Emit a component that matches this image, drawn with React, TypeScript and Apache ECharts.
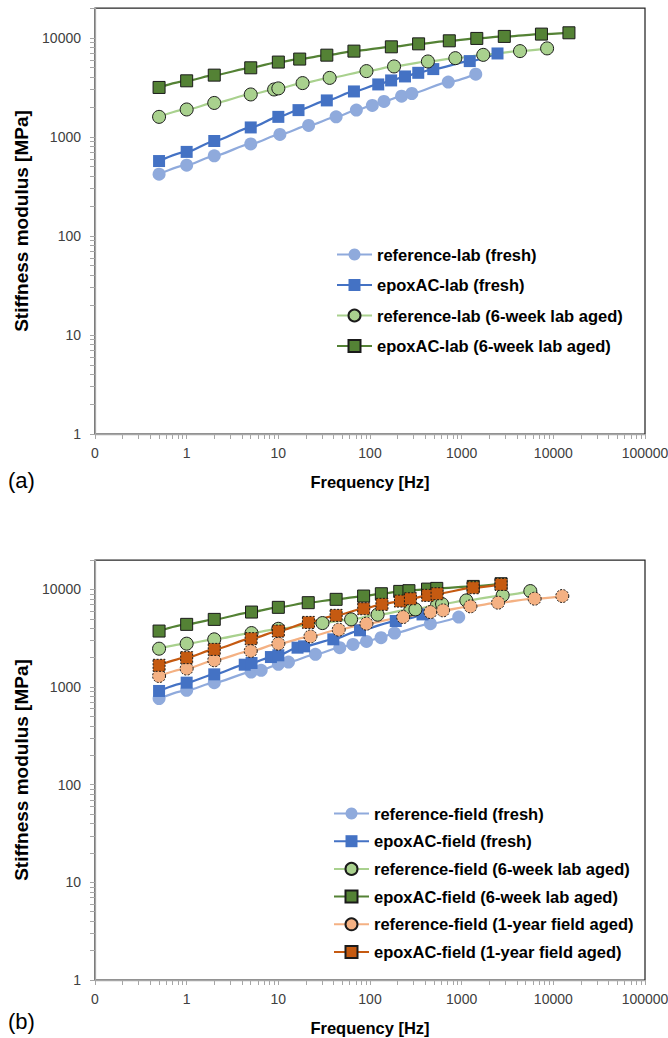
import React, { useEffect, useRef } from "react";
import * as echarts from "echarts";

// ---------- (a) laboratory-produced mixtures ----------
const labRefFreshF = [0.5, 1, 2, 5, 10.4, 21.4, 42.7, 71, 106, 142, 221, 286, 714, 1425];
const labRefFreshE = [420, 518, 643, 849, 1057, 1303, 1592, 1862, 2075, 2277, 2575, 2740, 3574, 4296];

const labEpoxFreshF = [0.5, 1, 2, 5, 10, 16.6, 33.8, 66.8, 123, 170, 241, 336, 490, 1225, 2460];
const labEpoxFreshE = [570, 705, 908, 1245, 1592, 1862, 2333, 2875, 3383, 3713, 4074, 4433, 4833, 5820, 6950];

const labRef6wF = [0.5, 1, 2, 5, 9, 10, 18.4, 36.3, 91.5, 183, 428, 853, 1720, 4330, 8550];
const labRef6wE = [1592, 1890, 2200, 2680, 3010, 3085, 3490, 3940, 4610, 5140, 5770, 6230, 6730, 7340, 7820];

const labEpox6wF = [0.5, 1, 2, 5, 10, 17.1, 33.8, 66.8, 171, 339, 733, 1462, 2917, 7417, 14800];
const labEpox6wE = [3155, 3680, 4200, 4980, 5690, 6100, 6680, 7340, 8110, 8690, 9330, 9860, 10330, 10900, 11240];

// ---------- (b) field-produced mixtures ----------
const fieldRefFreshF = [0.5, 1, 2, 5.05, 6.5, 10, 12.9, 25.4, 46.8, 65.2, 91.6, 132, 185, 456, 929];
const fieldRefFreshE = [762, 927, 1109, 1425, 1483, 1709, 1804, 2161, 2530, 2735, 2935, 3205, 3575, 4455, 5210];

const fieldEpoxFreshF = [0.5, 1, 2, 4.3, 5.1, 8.3, 10, 16.2, 19.1, 39.8, 77.8, 191, 374];
const fieldEpoxFreshE = [912, 1109, 1349, 1694, 1762, 2029, 2113, 2530, 2610, 3080, 3810, 4745, 5545];

const fieldRef6wF = [0.5, 1, 2, 5.1, 10, 30.3, 62.2, 121, 276, 313, 539, 611, 1125, 2800, 5610];
const fieldRef6wE = [2470, 2780, 3080, 3570, 3950, 4520, 4930, 5510, 6240, 6240, 6960, 7080, 7710, 8690, 9610];

const fieldEpox6wF = [0.5, 1, 2, 5.1, 10, 21.2, 42.7, 85.2, 133, 211, 266, 424, 535, 1337, 2690];
const fieldEpox6wE = [3745, 4385, 4930, 5860, 6550, 7310, 7910, 8550, 9030, 9540, 9700, 10070, 10240, 10730, 11430];

const fieldRef1yF = [0.5, 1, 2, 5, 10, 22.4, 45.6, 91.4, 230, 456, 627, 1245, 2495, 6250, 12530];
const fieldRef1yE = [1297, 1544, 1880, 2340, 2780, 3300, 3870, 4455, 5210, 5860, 6100, 6700, 7310, 8030, 8550];

const fieldEpox1yF = [0.5, 1, 2, 5.05, 10, 21.3, 42.7, 85.4, 135, 215, 276, 426, 539, 1331, 2690];
const fieldEpox1yE = [1670, 2000, 2430, 3130, 3745, 4590, 5420, 6340, 7030, 7590, 8020, 8690, 9030, 10400, 11250];

// ---------- axes ----------
const X_MIN = 0.1;
const X_MAX = 100000;
const Y_MIN = 1;
const Y_MAX = 20000;
const X_LABELS = [0.1, 1, 10, 100, 1000, 10000, 100000];
const Y_LABELS = [1, 10, 100, 1000, 10000];
const MINOR_MULT = [1, 2, 3, 4, 5, 6, 7, 8, 9];

const FONT = "'Liberation Sans', Arial, Helvetica, sans-serif";

function logTicks(min: number, max: number): number[] {
  const out: number[] = [];
  for (let d = min; d < max * 0.999; d *= 10) {
    MINOR_MULT.forEach((m) => {
      const v = d * m;
      if (v <= max * 1.0001) out.push(v);
    });
  }
  out.push(max);
  return out;
}

const zip = (f: number[], e: number[]) => f.map((v, i) => [v, e[i]]);

type Look = { color: string; symbol: string; border?: "solid" | "dotted" };
const LOOKS: Record<string, Look> = {
  refFresh: { color: "#8FAADC", symbol: "circle" },
  epoxFresh: { color: "#4472C4", symbol: "rect" },
  ref6w: { color: "#A9D18E", symbol: "circle", border: "solid" },
  epox6w: { color: "#548235", symbol: "rect", border: "solid" },
  ref1y: { color: "#F4B183", symbol: "circle", border: "dotted" },
  epox1y: { color: "#C55A11", symbol: "rect", border: "dotted" },
};

function mkSeries(name: string, f: number[], e: number[], look: Look, idx: number) {
  return {
    type: "line",
    name,
    xAxisIndex: idx,
    yAxisIndex: idx,
    data: zip(f, e),
    smooth: 0.25,
    smoothMonotone: "x",
    symbol: look.symbol,
    symbolSize: look.symbol === "rect" ? 12 : 13,
    lineStyle: { color: look.color, width: 2.25 },
    itemStyle: {
      color: look.color,
      borderColor: look.border ? "#1a1a1a" : look.color,
      borderWidth: look.border ? 1 : 0,
      borderType: look.border === "dotted" ? [2, 1.5] : "solid",
    },
    emphasis: { disabled: true },
    clip: false,
  };
}

function xAxisCfg(idx: number) {
  return {
    type: "log",
    gridIndex: idx,
    logBase: 10,
    min: X_MIN,
    max: X_MAX,
    name: "Frequency [Hz]",
    nameLocation: "middle",
    nameGap: 39,
    nameTextStyle: { fontFamily: FONT, fontSize: 16.5, fontWeight: "bold", color: "#000" },
    axisLine: { show: true, onZero: false, lineStyle: { color: "#A6A6A6", width: 1.25 } },
    axisTick: {
      show: true,
      inside: false,
      length: 5,
      customValues: logTicks(X_MIN, X_MAX),
      lineStyle: { color: "#A6A6A6", width: 1 },
    },
    minorTick: { show: false },
    splitLine: { show: false },
    axisLabel: {
      customValues: X_LABELS,
      margin: 12,
      fontFamily: FONT,
      fontSize: 14,
      color: "#404040",
      formatter: (v: number) => (v < 1 ? "0" : String(Math.round(v))),
    },
  };
}

function yAxisCfg(idx: number) {
  return {
    type: "log",
    gridIndex: idx,
    logBase: 10,
    min: Y_MIN,
    max: Y_MAX,
    name: "Stiffness modulus [MPa]",
    nameLocation: "middle",
    nameRotate: 90,
    nameGap: 61,
    nameTextStyle: { fontFamily: FONT, fontSize: 19, fontWeight: "bold", color: "#000" },
    axisLine: { show: true, onZero: false, lineStyle: { color: "#A6A6A6", width: 1.25 } },
    axisTick: {
      show: true,
      inside: false,
      length: 5,
      customValues: logTicks(Y_MIN, Y_MAX),
      lineStyle: { color: "#A6A6A6", width: 1 },
    },
    minorTick: { show: false },
    splitLine: { show: false },
    axisLabel: {
      customValues: Y_LABELS,
      margin: 14,
      fontFamily: FONT,
      fontSize: 14,
      color: "#404040",
      formatter: (v: number) => String(Math.round(v)),
    },
  };
}

const namesA = [
  "reference-lab (fresh)",
  "epoxAC-lab (fresh)",
  "reference-lab (6-week lab aged)",
  "epoxAC-lab (6-week lab aged)",
];
const namesB = [
  "reference-field (fresh)",
  "epoxAC-field (fresh)",
  "reference-field (6-week lab aged)",
  "epoxAC-field (6-week lab aged)",
  "reference-field (1-year field aged)",
  "epoxAC-field (1-year field aged)",
];

export default function App() {
  const ref = useRef<HTMLDivElement>(null);

  useEffect(() => {
    if (!ref.current) return;
    const chart = echarts.init(ref.current, null, { renderer: "svg" });

    const legendText = { fontFamily: FONT, fontSize: 16.5, fontWeight: "bold", color: "#000" };

    const option: any = {
      animation: false,
      backgroundColor: "#fff",
      textStyle: { fontFamily: FONT },
      grid: [
        {
          left: 95, top: 8, width: 550, height: 426,
          containLabel: false, outerBoundsMode: "none",
          show: true, borderColor: "#262626", borderWidth: 1.25, backgroundColor: "transparent",
        },
        {
          left: 95, top: 560, width: 550, height: 420,
          containLabel: false, outerBoundsMode: "none",
          show: true, borderColor: "#262626", borderWidth: 1.25, backgroundColor: "transparent",
        },
      ],
      xAxis: [xAxisCfg(0), xAxisCfg(1)],
      yAxis: [yAxisCfg(0), yAxisCfg(1)],
      legend: [
        {
          data: namesA,
          orient: "vertical",
          left: 336,
          top: 246,
          padding: 0,
          itemWidth: 35,
          itemHeight: 15,
          itemGap: 13.5,
          textStyle: legendText,
          selectedMode: false,
        },
        {
          data: namesB,
          orient: "vertical",
          left: 333,
          top: 805,
          padding: 0,
          itemWidth: 35,
          itemHeight: 15,
          itemGap: 10.7,
          textStyle: legendText,
          selectedMode: false,
        },
      ],
      graphic: [
        { type: "text", left: 8, top: 469, style: { text: "(a)", font: `22px ${FONT}`, fill: "#000" } },
        { type: "text", left: 8, top: 1010, style: { text: "(b)", font: `22px ${FONT}`, fill: "#000" } },
      ],
      series: [
        mkSeries(namesA[0], labRefFreshF, labRefFreshE, LOOKS.refFresh, 0),
        mkSeries(namesA[1], labEpoxFreshF, labEpoxFreshE, LOOKS.epoxFresh, 0),
        mkSeries(namesA[2], labRef6wF, labRef6wE, LOOKS.ref6w, 0),
        mkSeries(namesA[3], labEpox6wF, labEpox6wE, LOOKS.epox6w, 0),
        mkSeries(namesB[0], fieldRefFreshF, fieldRefFreshE, LOOKS.refFresh, 1),
        mkSeries(namesB[1], fieldEpoxFreshF, fieldEpoxFreshE, LOOKS.epoxFresh, 1),
        mkSeries(namesB[2], fieldRef6wF, fieldRef6wE, LOOKS.ref6w, 1),
        mkSeries(namesB[3], fieldEpox6wF, fieldEpox6wE, LOOKS.epox6w, 1),
        mkSeries(namesB[4], fieldRef1yF, fieldRef1yE, LOOKS.ref1y, 1),
        mkSeries(namesB[5], fieldEpox1yF, fieldEpox1yE, LOOKS.epox1y, 1),
      ],
    };

    chart.setOption(option);
    return () => chart.dispose();
  }, []);

  return (
    <div
      ref={ref}
      style={{ position: "absolute", left: 0, top: 0, width: 668, height: 1038, background: "#fff" }}
    />
  );
}
